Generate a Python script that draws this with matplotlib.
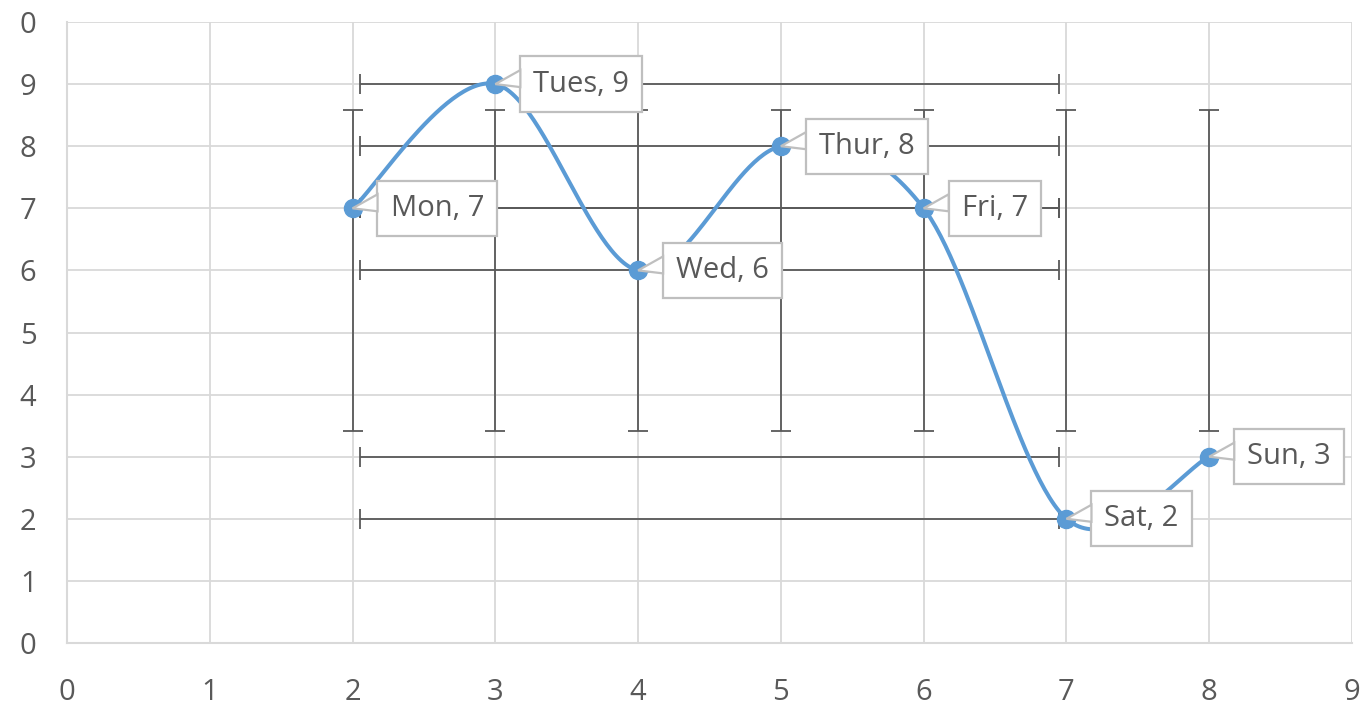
import numpy as np
import matplotlib
matplotlib.use('Agg')
import matplotlib.pyplot as plt
from matplotlib.patches import Polygon

days = ['Mon', 'Tues', 'Wed', 'Thur', 'Fri', 'Sat', 'Sun']
x = [2, 3, 4, 5, 6, 7, 8]
y = [7, 9, 6, 8, 7, 2, 3]

# horizontal error bar span (same for every point)
xbar_center = 4.5
xbar_half = 2.45

xticks = [0, 1, 2, 3, 4, 5, 6, 7, 8, 9]
yticks = [0, 1, 2, 3, 4, 5, 6, 7, 8, 9, 10]
ytick_labels = ['0', '1', '2', '3', '4', '5', '6', '7', '8', '9', '0']

blue = '#5B9BD5'
grey_text = '#595959'
grid_col = '#D9D9D9'
bar_col = '#595959'

plt.rcParams['font.family'] = ['Open Sans', 'DejaVu Sans']

fig = plt.figure(figsize=(13.7, 7.05), dpi=100)
ax = fig.add_axes([67/1370, 62/705, 1285/1370, 621/705])
ax.set_xlim(0, 9)
ax.set_ylim(0, 10)

# smooth line through the points (catmull-rom style bezier, like excel)
xa = np.array(x, dtype=float)
ya = np.array(y, dtype=float)
px = np.concatenate([[xa[0]], xa, [xa[-1]]])
py = np.concatenate([[ya[0]], ya, [ya[-1]]])
t = np.linspace(0, 1, 60)
sx, sy = [], []
for i in range(len(xa) - 1):
    p0 = np.array([px[i+1], py[i+1]])
    p3 = np.array([px[i+2], py[i+2]])
    c1 = p0 + (p3 - np.array([px[i], py[i]])) / 6
    c2 = p3 - (np.array([px[i+3], py[i+3]]) - p0) / 6
    b = ((1-t)**3)[:, None]*p0 + (3*(1-t)**2*t)[:, None]*c1 + (3*(1-t)*t**2)[:, None]*c2 + (t**3)[:, None]*p3
    sx.extend(b[:, 0])
    sy.extend(b[:, 1])

# error bars: vertical = mean +/- sample std of y
ymean = np.mean(ya)
ystd = np.std(ya, ddof=1)
ax.errorbar(x, [ymean]*len(x), yerr=ystd, fmt='none', ecolor=bar_col,
            elinewidth=1.3, capsize=7, capthick=1.3, zorder=2)
ax.errorbar([xbar_center]*len(y), y, xerr=xbar_half, fmt='none', ecolor=bar_col,
            elinewidth=1.3, capsize=7, capthick=1.3, zorder=2)

ax.plot(sx, sy, color=blue, lw=2.9, zorder=3, solid_capstyle='round')
ax.plot(x, y, 'o', color=blue, ms=13, zorder=4)

ax.set_xticks(xticks)
ax.set_yticks(yticks)
ax.set_yticklabels(ytick_labels)
ax.tick_params(length=0, labelsize=21, labelcolor=grey_text)
ax.tick_params(axis='x', pad=25)
ax.tick_params(axis='y', pad=22)
ax.grid(True, color=grid_col, lw=1.3, zorder=0)
ax.set_axisbelow(True)
for s in ['top', 'right']:
    ax.spines[s].set_visible(False)
for s in ['left', 'bottom']:
    ax.spines[s].set_color(grid_col)
    ax.spines[s].set_linewidth(1.5)

# data labels with callout wedges
fig.canvas.draw()
for d, xi, yi in zip(days, x, y):
    X, Y = ax.transData.transform((xi, yi))
    wedge = Polygon([(X, Y), (X + 25, Y + 14), (X + 25, Y - 3)], closed=True,
                    facecolor='white', edgecolor='#BFBFBF', lw=1.6,
                    transform=None, zorder=5)
    fig.add_artist(wedge)
    ax.annotate(f'{d}, {yi}', (xi, yi), xytext=(25 + 13, 0), textcoords='offset pixels',
                ha='left', va='center', fontsize=21, color=grey_text, zorder=6,
                bbox=dict(boxstyle='square,pad=0.45', fc='white', ec='#BFBFBF', lw=1.6))

fig.savefig('out.png', dpi=100)
